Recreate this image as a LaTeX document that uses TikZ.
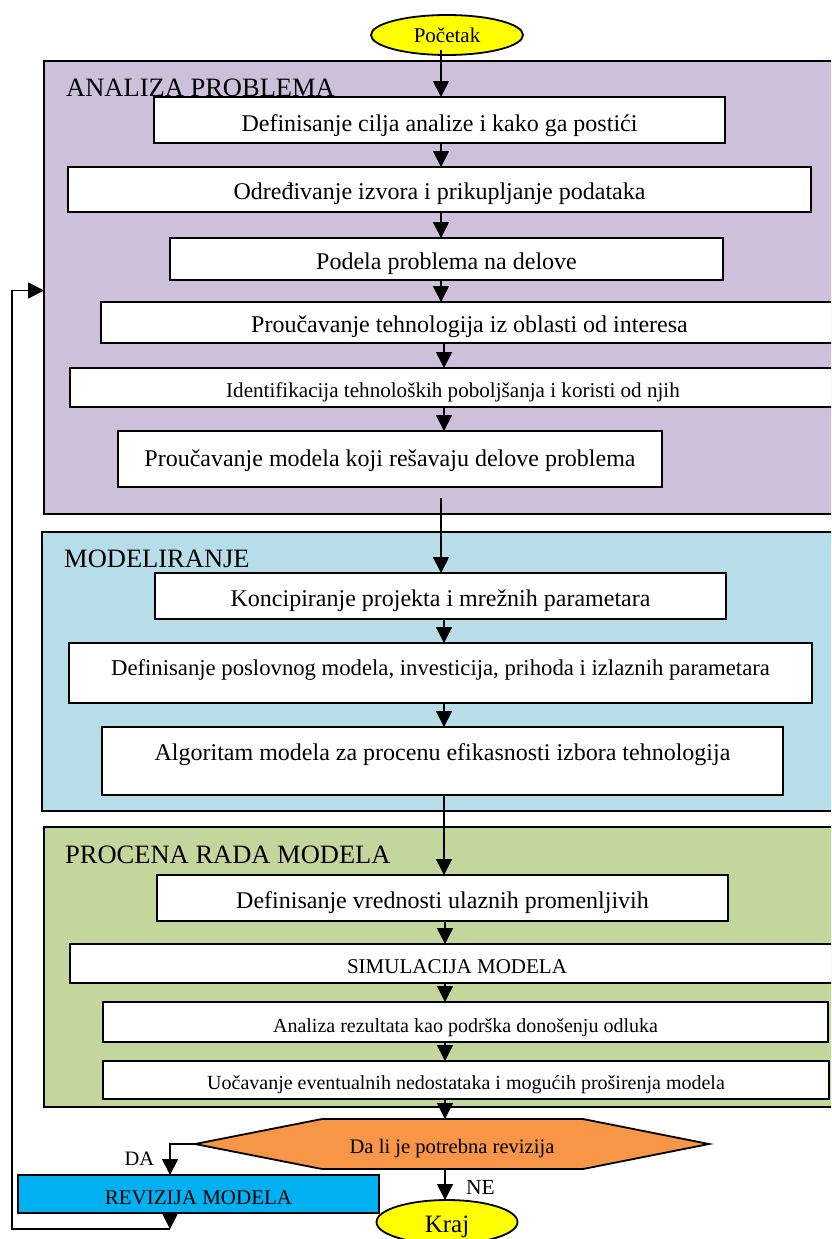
\documentclass[tikz,border=0pt]{standalone}
\usepackage{fontspec}
\setmainfont{Liberation Serif}
\usetikzlibrary{arrows.meta,shapes.geometric}
\definecolor{cpurple}{HTML}{CCC0DA}
\definecolor{cblue}{HTML}{B7DDE8}
\definecolor{cgreen}{HTML}{C3D69B}
\definecolor{corange}{HTML}{F79646}
\definecolor{cyellow}{HTML}{FFFF00}
\definecolor{ccyan}{HTML}{00B0F0}
\newcommand\myfs[1]{\fontsize{#1}{#1}\selectfont}
\begin{document}
\begin{tikzpicture}[x=1pt,y=-1pt,
  panel/.style={draw=black, line width=1.8pt, inner sep=0pt, outer sep=0pt},
  stepbox/.style={draw=black, fill=white, line width=1.8pt, inner sep=0pt, outer sep=0pt},
  title/.style={anchor=base west, inner sep=0pt, font=\myfs{26.5}},
  term/.style={ellipse, draw=black, fill=cyellow, line width=1.8pt, inner sep=0pt, outer sep=0pt},
  arr/.style={line width=1.8pt, -{Triangle[length=16pt,width=16pt]}}]
\useasboundingbox (0,0) rectangle (831,1239);
\clip (0,0) rectangle (831,1239);
% panels
\node[panel, fill=cpurple, minimum width=806pt, minimum height=453pt] (anal) at (447,287.5) {};
\node[panel, fill=cblue, minimum width=808pt, minimum height=279pt] (mod) at (446,671.5) {};
\node[panel, fill=cgreen, minimum width=806pt, minimum height=280pt] (proc) at (447,967) {};
\node[title] (t1) at (66,96.5) {ANALIZA PROBLEMA};
\node[title] (t2) at (64,567) {MODELIRANJE};
\node[title] (t3) at (65,863) {PROCENA RADA MODELA};
% steps
\node[stepbox, minimum width=571pt, minimum height=46pt, text height=34pt, text depth=12pt, font=\myfs{24}] (b1) at (439.5,120) {Definisanje cilja analize i kako ga postići};
\node[stepbox, minimum width=743pt, minimum height=45pt, text height=32pt, text depth=13pt, font=\myfs{24}] (b2) at (439.5,189.5) {Određivanje izvora i prikupljanje podataka};
\node[stepbox, minimum width=553pt, minimum height=42pt, text height=31pt, text depth=11pt, font=\myfs{24}] (b3) at (446.5,259) {Podela problema na delove};
\node[stepbox, minimum width=737pt, minimum height=41pt, text height=30pt, text depth=11pt, font=\myfs{24}] (b4) at (469.5,322.5) {Proučavanje tehnologija iz oblasti od interesa};
\node[stepbox, minimum width=766pt, minimum height=39pt, text height=29pt, text depth=10pt, font=\myfs{21.1}] (b5) at (453,387.5) {Identifikacija tehnoloških poboljšanja i koristi od njih};
\node[stepbox, minimum width=544pt, minimum height=56pt, text height=35pt, text depth=21pt, font=\myfs{24}] (b6) at (390,459) {Proučavanje modela koji rešavaju delove problema};
\node[stepbox, minimum width=571pt, minimum height=46pt, text height=33pt, text depth=13pt, font=\myfs{24}] (k) at (440.5,596) {Koncipiranje projekta i mrežnih parametara};
\node[stepbox, minimum width=743pt, minimum height=60pt, text height=32pt, text depth=28pt, font=\myfs{22.7}] (d) at (440.5,673) {Definisanje poslovnog modela, investicija, prihoda i izlaznih parametara};
\node[stepbox, minimum width=681pt, minimum height=68pt, text height=33pt, text depth=35pt, font=\myfs{24}] (a) at (442.5,761) {Algoritam modela za procenu efikasnosti izbora tehnologija};
\node[stepbox, minimum width=571pt, minimum height=46pt, text height=33pt, text depth=13pt, font=\myfs{24}] (dv) at (442.5,898) {Definisanje vrednosti ulaznih promenljivih};
\node[stepbox, minimum width=774pt, minimum height=39pt, text height=29pt, text depth=10pt, font=\myfs{21}] (sim) at (457,963.5) {SIMULACIJA MODELA};
\node[stepbox, minimum width=725pt, minimum height=40pt, text height=30pt, text depth=10pt, font=\myfs{20}] (ar) at (465.5,1022) {Analiza rezultata kao podrška donošenju odluka};
\node[stepbox, minimum width=726pt, minimum height=38pt, text height=28pt, text depth=10pt, font=\myfs{20}] (u) at (466,1080) {Uočavanje eventualnih nedostataka i mogućih proširenja modela};
% decision
\node[inner sep=0pt, outer sep=0pt, minimum width=514pt, minimum height=50pt] (hex) at (452,1144) {};
\filldraw[fill=corange, draw=black, line width=1.8pt] (hex.west) -- ([xshift=127pt]hex.north west) -- ([xshift=-126pt]hex.north east) -- (hex.east) -- ([xshift=-126pt]hex.south east) -- ([xshift=127pt]hex.south west) -- cycle;
\node[inner sep=0pt, outer sep=0pt, minimum width=514pt, minimum height=50pt, text height=34pt, text depth=16pt, font=\myfs{20.6}] (hext) at (hex.center) {Da li je potrebna revizija};
\node[stepbox, fill=ccyan, minimum width=361pt, minimum height=38pt, text height=29pt, text depth=9pt, font=\myfs{21}] (rev) at (198.5,1194) {REVIZIJA MODELA};
% terminals
\node[term, minimum width=152pt, minimum height=40pt, text height=16pt, text depth=0pt, font=\myfs{21}] (start) at (447,35) {Početak};
\node[term, minimum width=141pt, minimum height=44pt, text height=20pt, text depth=0pt, font=\myfs{25}] (kraj) at (447,1222) {Kraj};
% labels
\node[anchor=base, inner sep=0pt, font=\myfs{20.5}] (da) at (139.5,1165) {DA};
\node[anchor=base, inner sep=0pt, font=\myfs{21.5}] (ne) at (480.5,1194) {NE};
% spine coordinates
\coordinate (s1) at (441,0);
\coordinate (s2) at (444,0);
\coordinate (s3) at (445,0);
\coordinate (daX) at (170,0);
\coordinate (st) at ([yshift=-15pt]start.center);
\coordinate (b6x) at ([yshift=-11pt]b6.south);
\coordinate (fbB) at (170,1229);
\coordinate (fbL) at (12,1229);
\coordinate (fbY) at (0,290.5);
% connectors
\draw[arr] (st -| s1) -- (b1.north -| s1);
\draw[arr] (b1.south -| s1) -- (b2.north -| s1);
\draw[arr] (b2.south -| s1) -- (b3.north -| s1);
\draw[arr] (b3.south -| s1) -- (b4.north -| s1);
\draw[arr] (b4.south -| s2) -- (b5.north -| s2);
\draw[arr] (b5.south -| s2) -- (b6.north -| s2);
\draw[arr] (b6x -| s1) -- (k.north -| s1);
\draw[arr] (k.south -| s2) -- (d.north -| s2);
\draw[arr] (d.south -| s2) -- (a.north -| s2);
\draw[arr] (a.south -| s2) -- (dv.north -| s2);
\draw[arr] (dv.south -| s3) -- (sim.north -| s3);
\draw[arr] (sim.south -| s3) -- (ar.north -| s3);
\draw[arr] (ar.south -| s3) -- (u.north -| s3);
\draw[arr] (u.south -| s3) -- (hex.north -| s3);
\draw[arr] (hex.south -| s3) -- (kraj.north -| s3);
\draw[arr] (hex.west) -| (rev.north -| daX);
\draw[arr] (rev.south -| daX) -- (fbB);
\draw[arr] (fbB) -- (fbL) |- (anal.west |- fbY);
\end{tikzpicture}
\end{document}
